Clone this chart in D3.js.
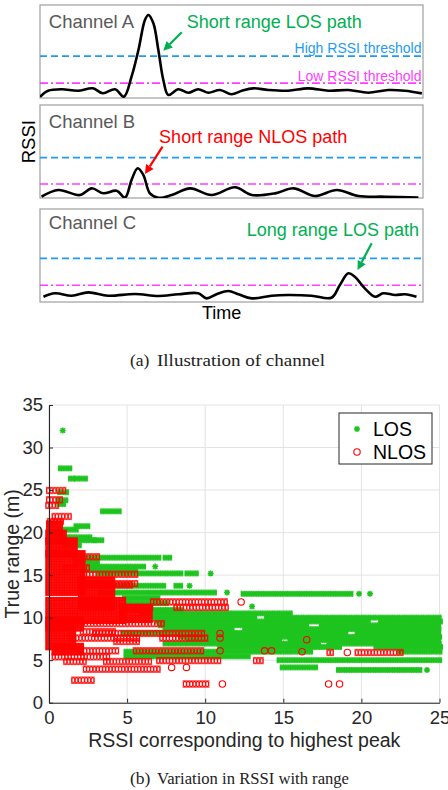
<!DOCTYPE html>
<html>
<head>
<meta charset="utf-8">
<script src="https://cdn.jsdelivr.net/npm/d3@7"></script>
<style>
  body { margin: 0; background: #fff; }
  svg { display: block; }
</style>
</head>
<body>
<div id="chart"></div>
<script>
// ---------- (a) illustration: time 0-100, RSSI 0-100 inside each panel
const chanA = [[0,1.4],[2.1,7.8],[5.7,9.4],[9.9,7.8],[13.8,10.4],[16.4,5.1],[19.6,9.4],[21.9,1.4],
  [23.9,22.9],[25.7,51.6],[27.4,83.9],[28.3,89.2],[29.6,80.3],[30.9,51.6],[32.2,19.4],[33.5,3.2],
  [36.1,9.4],[38.7,5.7],[41.3,9.4],[43.9,5.7],[47,8.6],[50,4],[52.7,7.8],[55.7,10.4],[59.6,8.6],
  [64.8,7.8],[70,10.4],[75.3,7.8],[80.5,8.6],[85.7,5.7],[90.9,8.6],[95.3,7.8],[99.7,5]];
const chanB = [[0.4,1.4],[4.8,8.6],[10.4,3.2],[13.5,10.4],[16.5,5.1],[20,7.8],[22.2,0.5],[23.9,19.4],
  [25.5,32],[27,24.7],[28.7,5],[30.9,0.3],[34.4,3.2],[39.2,10.4],[44.8,3.2],[50.9,11.5],[55.3,3.2],
  [61.4,5],[66.2,10.4],[71.8,2.2],[77.5,8.6],[83.1,2.2],[90.1,1.4],[98.8,0.6]];
const chanC = [[0.9,5.7],[3.9,9.4],[8.3,6.8],[12.6,10.4],[17.8,6.8],[24.8,8.6],[30.9,6.5],[36.1,8.3],
  [41.3,9.4],[43.5,3.9],[46.1,8.3],[49.2,11.8],[51.8,8.3],[55.3,3.9],[60.5,6.8],[64.8,7.5],[70.9,6.8],
  [76.1,4.6],[78.3,18.3],[80.5,30.9],[82.2,27.2],[84.8,14.7],[87.5,5.7],[89.6,9.4],[92.7,7.5],
  [95.3,8.3],[98.3,5.7]];
const channelNames = ["Channel A", "Channel B", "Channel C"];
const highThr = [45, 43.5, 47];
const lowThr = [16, 15, 18];
// note text, colour, text pos (t, v), arrow from (t, v) to (t, v)
const pathNotes = [
  {text: "Short range LOS path", color: "#00b050", t: 38.3, v: 75, from: [37, 70.6], to: [32.2, 50.9]},
  {text: "Short range NLOS path", color: "#ff0000", t: 31.1, v: 58.8, from: [32, 55.2], to: [27.4, 25.8]},
  {text: "Long range LOS path", color: "#00b050", t: 54, v: 71.3, from: [86.6, 63.1], to: [82.9, 34.4]}
];

// ---------- (b) scatter: [true range, rssi from, rssi to]
const rssiTicks = [0, 5, 10, 15, 20, 25];
const rangeTicks = [0, 5, 10, 15, 20, 25, 30, 35];
const losRows = [
  [32.0,0.88,0.88],[27.55,0.8,1.35],[26.35,1.45,1.6],[26.35,1.8,2.4],[24.75,0.75,1.1],
  [23.8,0.7,1.05],[23.35,0.7,0.95],[22.5,3.5,4.55],[20.75,1.8,2.45],[20.35,0.75,1.8],
  [19.45,0.7,2.6],[19.1,0.7,2.9],[19.1,3.0,3.45],[18.5,1.1,2.0],[17.05,2.2,7.1],[17.05,7.5,7.7],
  [16.45,1.8,3.05],[16.0,2.6,6.1],[16.0,6.8,6.8],[15.6,2.4,5.6],[15.2,3.3,8.4],[15.2,8.9,9.5],
  [15.2,10.35,10.35],[13.75,2.2,7.3],[13.75,8.2,8.5],[13.75,9.0,9.0],[12.95,3.3,10.6],
  [12.95,11.4,11.4],[12.8,12.5,19.3],[12.8,19.85,19.85],[12.8,20.55,20.55],[12.3,4.9,7.0],
  [11.7,5.0,7.5],[11.3,13.0,13.0],[10.9,5.0,8.5],[10.5,6.0,15.5],[10.0,6.8,13.2],[10.0,14.0,25],
  [9.55,7.0,20.5],[9.55,21.3,25],[9.1,7.2,16.5],[9.1,17.5,25],[8.65,7.5,11.8],[8.65,12.6,25],
  [8.2,4.8,19.0],[8.2,19.8,25],[7.75,8.5,25],[7.35,9.0,14.8],[7.35,15.5,25],[6.95,7.5,17.2],
  [6.95,18.0,25],[6.55,11.0,18.6],[6.55,21.0,25],[6.0,5.0,16.7],[6.0,22.5,25],
  [5.45,5.0,12.7],[5.0,14.8,25],[4.15,15.0,17.0],[3.85,18.6,23.75],[3.85,24.2,24.2]
];
const nlosRows = [
  [24.95,0.05,1.0],[23.85,0.05,0.7],[23.2,0.0,0.5],[21.9,0.4,1.35],[21.3,0.1,0.9],
  [17.15,1.8,3.1],[15.85,1.15,2.5],[15.1,2.2,5.6],[14.0,2.4,5.6],[13.85,3.3,5.2],
  [11.85,6.7,11.4],[11.85,12.3,12.3],[11.2,5.0,6.5],[11.2,8.2,11.4],[9.3,0.0,7.3],
  [8.35,2.2,4.1],[8.15,3.0,9.9],[8.15,10.95,10.95],[7.6,1.5,5.8],[7.6,7.3,10.1],
  [7.6,10.95,10.95],[7.4,16.5,16.5],[7.2,4.35,5.6],[6.1,2.0,4.35],[6.1,5.6,9.9],
  [6.1,10.95,10.95],[6.1,13.8,13.8],[6.1,14.25,14.25],[6.0,16.2,16.2],[5.9,18.0,18.2],
  [5.9,19.1,19.1],[5.9,19.8,22.5],[5.4,0.4,3.7],[4.85,1.15,2.2],[4.85,3.7,6.5],
  [4.95,7.1,10.8],[4.95,13.3,13.6],[4.15,7.85,7.85],[4.15,8.8,8.8],[3.95,2.4,7.1],
  [2.65,1.66,2.8],[2.2,8.8,10.2],[2.2,11.1,11.1],[2.2,17.9,17.9],[2.2,18.6,18.6]
];
// dense NLOS clusters: [range from, range to, rssi from, rssi to]
const nlosBlocks = [
  [20.0,21.0,0.05,0.65],[19.0,19.9,0.0,0.9],[17.5,19.0,0.0,1.6],[13.0,17.5,0.0,2.1],
  [11.3,14.4,2.1,4.0],[9.7,12.0,0.0,4.7],[9.8,11.2,4.7,6.4],[8.8,9.7,0.0,2.0],
  [6.6,8.8,0.0,1.5],[6.0,6.6,0.4,2.0]
];

const W = 448, H = 790;
const sans = "'Liberation Sans', Arial, sans-serif";
const serif = "'Liberation Serif', 'Times New Roman', serif";
const green = "#1ec41e", red = "#ff0000";

let svg = d3.select("#chart").append("svg")
    .attr("width", W)
    .attr("height", H);

let defs = svg.append("defs");

// ---------------- panel (a)
let panelTops = [5, 105, 209];
let panelH = 93;
let tScale = d3.scaleLinear().domain([0, 100]).range([40, 423]);
let curves = [chanA, chanB, chanC];

panelTops.forEach(function(top, i) {
    let vScale = d3.scaleLinear().domain([0, 100]).range([top + panelH, top]);
    let g = svg.append("g");

    defs.append("clipPath").attr("id", "clip" + i)
        .append("rect")
        .attr("x", tScale(0)).attr("y", top)
        .attr("width", tScale(100) - tScale(0)).attr("height", panelH);

    g.append("rect")
        .attr("x", tScale(0)).attr("y", top)
        .attr("width", tScale(100) - tScale(0)).attr("height", panelH)
        .attr("fill", "#fff")
        .attr("stroke", "#a6a6a6")
        .attr("stroke-width", 1.3);

    g.append("line")
        .attr("x1", tScale(0)).attr("x2", tScale(100))
        .attr("y1", vScale(highThr[i])).attr("y2", vScale(highThr[i]))
        .attr("stroke", "#1e9bf5").attr("stroke-width", 1.8)
        .attr("stroke-dasharray", "7,4");

    g.append("line")
        .attr("x1", tScale(0)).attr("x2", tScale(100))
        .attr("y1", vScale(lowThr[i])).attr("y2", vScale(lowThr[i]))
        .attr("stroke", "#ff3dff").attr("stroke-width", 1.6)
        .attr("stroke-dasharray", "8,3,2,3");

    let line = d3.line()
        .x(d => tScale(d[0]))
        .y(d => vScale(d[1]))
        .curve(d3.curveCatmullRom.alpha(0.5));

    g.append("path")
        .datum(curves[i])
        .attr("d", line)
        .attr("fill", "none")
        .attr("stroke", "#000")
        .attr("stroke-width", 2.6)
        .attr("stroke-linejoin", "round")
        .attr("clip-path", "url(#clip" + i + ")");

    g.append("text")
        .attr("x", tScale(2.3)).attr("y", vScale(i == 2 ? 79 : 75))
        .attr("font-family", sans).attr("font-size", 18.5)
        .attr("fill", "#595959")
        .text(channelNames[i]);

    // annotation + arrow
    let note = pathNotes[i];
    g.append("text")
        .attr("x", tScale(note.t)).attr("y", vScale(note.v))
        .attr("font-family", sans).attr("font-size", 18)
        .attr("fill", note.color)
        .text(note.text);

    let x1 = tScale(note.from[0]), y1 = vScale(note.from[1]);
    let x2 = tScale(note.to[0]), y2 = vScale(note.to[1]);
    let ang = Math.atan2(y2 - y1, x2 - x1);
    let hl = 9, hw = 4.5;
    let bx = x2 - hl * Math.cos(ang), by = y2 - hl * Math.sin(ang);
    g.append("line")
        .attr("x1", x1).attr("y1", y1).attr("x2", bx).attr("y2", by)
        .attr("stroke", note.color).attr("stroke-width", 2.2);
    g.append("path")
        .attr("d", "M" + x2 + "," + y2 +
            "L" + (bx + hw * Math.sin(ang)) + "," + (by - hw * Math.cos(ang)) +
            "L" + (bx - hw * Math.sin(ang)) + "," + (by + hw * Math.cos(ang)) + "Z")
        .attr("fill", note.color);

    if (i == 0) {
        g.append("text")
            .attr("x", tScale(99.6)).attr("y", vScale(highThr[i] + 3))
            .attr("text-anchor", "end")
            .attr("font-family", sans).attr("font-size", 14)
            .attr("fill", "#1e9bf5")
            .text("High RSSI threshold");
        g.append("text")
            .attr("x", tScale(99.6)).attr("y", vScale(lowThr[i] + 1.8))
            .attr("text-anchor", "end")
            .attr("font-family", sans).attr("font-size", 14)
            .attr("fill", "#ff3dff")
            .text("Low RSSI threshold");
    }
});

svg.append("text")
    .attr("transform", "translate(34.5,141.7) rotate(-90)")
    .attr("text-anchor", "middle")
    .attr("font-family", sans).attr("font-size", 18.5)
    .attr("fill", "#000")
    .text("RSSI");

svg.append("text")
    .attr("x", 221.7).attr("y", 319)
    .attr("text-anchor", "middle")
    .attr("font-family", sans).attr("font-size", 18)
    .attr("fill", "#000")
    .text("Time");

function caption(label, body, y, bodyLen) {
    svg.append("text")
        .attr("x", 130).attr("y", y)
        .attr("font-family", serif).attr("font-size", 17.5)
        .attr("fill", "#222")
        .text(label);
    svg.append("text")
        .attr("x", 157).attr("y", y)
        .attr("font-family", serif).attr("font-size", 17.5)
        .attr("fill", "#222")
        .attr("textLength", bodyLen)
        .attr("lengthAdjust", "spacingAndGlyphs")
        .text(body);
}
caption("(a)", "Illustration of channel", 365.5, 168);
caption("(b)", "Variation in RSSI with range", 784, 192);

// ---------------- panel (b)
let xScale = d3.scaleLinear().domain([0, 25]).range([49, 439.5]);
let yScale = d3.scaleLinear().domain([0, 35]).range([702.7, 405]);

// marker patterns: hollow rings for NLOS, asterisks for LOS
let ringR = 3.2, ringW = 1.1;
function ringPattern(id, sx, sy, rows) {
    let p = defs.append("pattern")
        .attr("id", id)
        .attr("patternUnits", "userSpaceOnUse")
        .attr("x", -sx / 2).attr("y", -sy / 2)
        .attr("width", sx).attr("height", sy);
    let ks = d3.range(-2, 3);
    ks.forEach(function(kx) {
        (rows ? ks : [0]).forEach(function(ky) {
            p.append("circle")
                .attr("cx", sx / 2 + kx * sx)
                .attr("cy", sy / 2 + ky * sy)
                .attr("r", ringR)
                .attr("fill", "none")
                .attr("stroke", red)
                .attr("stroke-width", ringW);
        });
    });
}
ringPattern("ringRow", 3.2, 10, false);
ringPattern("ringBlock", 2.6, 2.6, true);

const starPath = "M-3,0H3M0,-3V3M-2.2,-2.2L2.2,2.2M-2.2,2.2L2.2,-2.2";
let starStep = 2.4;
let sp = defs.append("pattern")
    .attr("id", "starRow")
    .attr("patternUnits", "userSpaceOnUse")
    .attr("x", -starStep / 2).attr("y", -5)
    .attr("width", starStep).attr("height", 10);
d3.range(-2, 3).forEach(function(k) {
    sp.append("path")
        .attr("transform", "translate(" + (starStep / 2 + k * starStep) + ",5)")
        .attr("d", starPath)
        .attr("stroke", green).attr("stroke-width", 1.5)
        .attr("fill", "none");
});

let grid = svg.append("g");
grid.selectAll(".gx").data(rssiTicks).enter().append("line")
    .attr("x1", d => xScale(d)).attr("x2", d => xScale(d))
    .attr("y1", yScale(0)).attr("y2", yScale(35))
    .attr("stroke", "#e3e3e3").attr("stroke-width", 1);
grid.selectAll(".gy").data(rangeTicks).enter().append("line")
    .attr("x1", xScale(0)).attr("x2", xScale(25))
    .attr("y1", d => yScale(d)).attr("y2", d => yScale(d))
    .attr("stroke", "#e3e3e3").attr("stroke-width", 1);

// LOS rows
let losG = svg.append("g");
losRows.forEach(function(d) {
    let x0 = xScale(d[1]), y0 = yScale(d[0]);
    if (d[1] == d[2]) {
        losG.append("path")
            .attr("transform", "translate(" + x0 + "," + y0 + ")")
            .attr("d", starPath)
            .attr("stroke", green).attr("stroke-width", 1.5);
    } else {
        let len = Math.floor((xScale(d[2]) - x0) / starStep) * starStep;
        losG.append("g")
            .attr("transform", "translate(" + x0 + "," + y0 + ")")
            .append("rect")
            .attr("x", -3.6).attr("y", -3.6)
            .attr("width", len + 7.2).attr("height", 7.2)
            .attr("fill", "url(#starRow)");
    }
});

// NLOS dense clusters
svg.append("g").selectAll("g").data(nlosBlocks).enter().append("g")
    .attr("transform", d => "translate(" + xScale(d[2]) + "," + yScale(d[1]) + ")")
    .append("rect")
    .attr("x", -3.8).attr("y", -3.8)
    .attr("width", d => xScale(d[3]) - xScale(d[2]) + 7.6)
    .attr("height", d => yScale(d[0]) - yScale(d[1]) + 7.6)
    .attr("fill", "url(#ringBlock)");

// NLOS rows
let nlosG = svg.append("g");
nlosRows.forEach(function(d) {
    let x0 = xScale(d[1]), y0 = yScale(d[0]);
    if (d[1] == d[2]) {
        nlosG.append("circle")
            .attr("cx", x0).attr("cy", y0).attr("r", ringR)
            .attr("fill", "none").attr("stroke", red).attr("stroke-width", ringW);
    } else {
        let len = Math.floor((xScale(d[2]) - x0) / 3.2) * 3.2;
        nlosG.append("g")
            .attr("transform", "translate(" + x0 + "," + y0 + ")")
            .append("rect")
            .attr("x", -3.8).attr("y", -3.8)
            .attr("width", len + 7.6).attr("height", 7.6)
            .attr("fill", "url(#ringRow)");
    }
});

// axes
let yAxis = d3.axisLeft(yScale).tickValues(rangeTicks)
    .tickSizeInner(-4).tickSizeOuter(0).tickPadding(6);
let xAxis = d3.axisBottom(xScale).tickValues(rssiTicks)
    .tickSizeInner(-4).tickSizeOuter(0).tickPadding(8);

let gy = svg.append("g")
    .attr("transform", "translate(" + xScale(0) + ",0)")
    .call(yAxis);
let gx = svg.append("g")
    .attr("transform", "translate(0," + yScale(0) + ")")
    .call(xAxis);
[gx, gy].forEach(function(a) {
    a.select(".domain").attr("stroke", "#262626").attr("stroke-width", 1.1);
    a.selectAll(".tick line").attr("stroke", "#262626");
    a.selectAll(".tick text")
        .attr("font-family", sans).attr("font-size", 18.5)
        .attr("fill", "#262626");
});

svg.append("text")
    .attr("x", (xScale(0) + xScale(25)) / 2).attr("y", 746.5)
    .attr("text-anchor", "middle")
    .attr("font-family", sans).attr("font-size", 19.5)
    .attr("fill", "#262626")
    .text("RSSI corresponding to highest peak");

svg.append("text")
    .attr("transform", "translate(19," + ((yScale(0) + yScale(35)) / 2) + ") rotate(-90)")
    .attr("text-anchor", "middle")
    .attr("font-family", sans).attr("font-size", 19.5)
    .attr("fill", "#262626")
    .text("True range (m)");

// legend
let lg = svg.append("g").attr("transform", "translate(339,413)");
lg.append("rect")
    .attr("width", 93).attr("height", 51)
    .attr("fill", "#fff").attr("stroke", "#262626").attr("stroke-width", 1);
lg.append("path")
    .attr("transform", "translate(18,16)")
    .attr("d", starPath)
    .attr("stroke", green).attr("stroke-width", 1.4);
lg.append("circle")
    .attr("cx", 18).attr("cy", 39).attr("r", ringR)
    .attr("fill", "none").attr("stroke", red).attr("stroke-width", ringW);
lg.append("text").attr("x", 34).attr("y", 22.5)
    .attr("font-family", sans).attr("font-size", 19.5).attr("fill", "#000")
    .text("LOS");
lg.append("text").attr("x", 34).attr("y", 45.5)
    .attr("font-family", sans).attr("font-size", 19.5).attr("fill", "#000")
    .text("NLOS");
</script>
</body>
</html>
